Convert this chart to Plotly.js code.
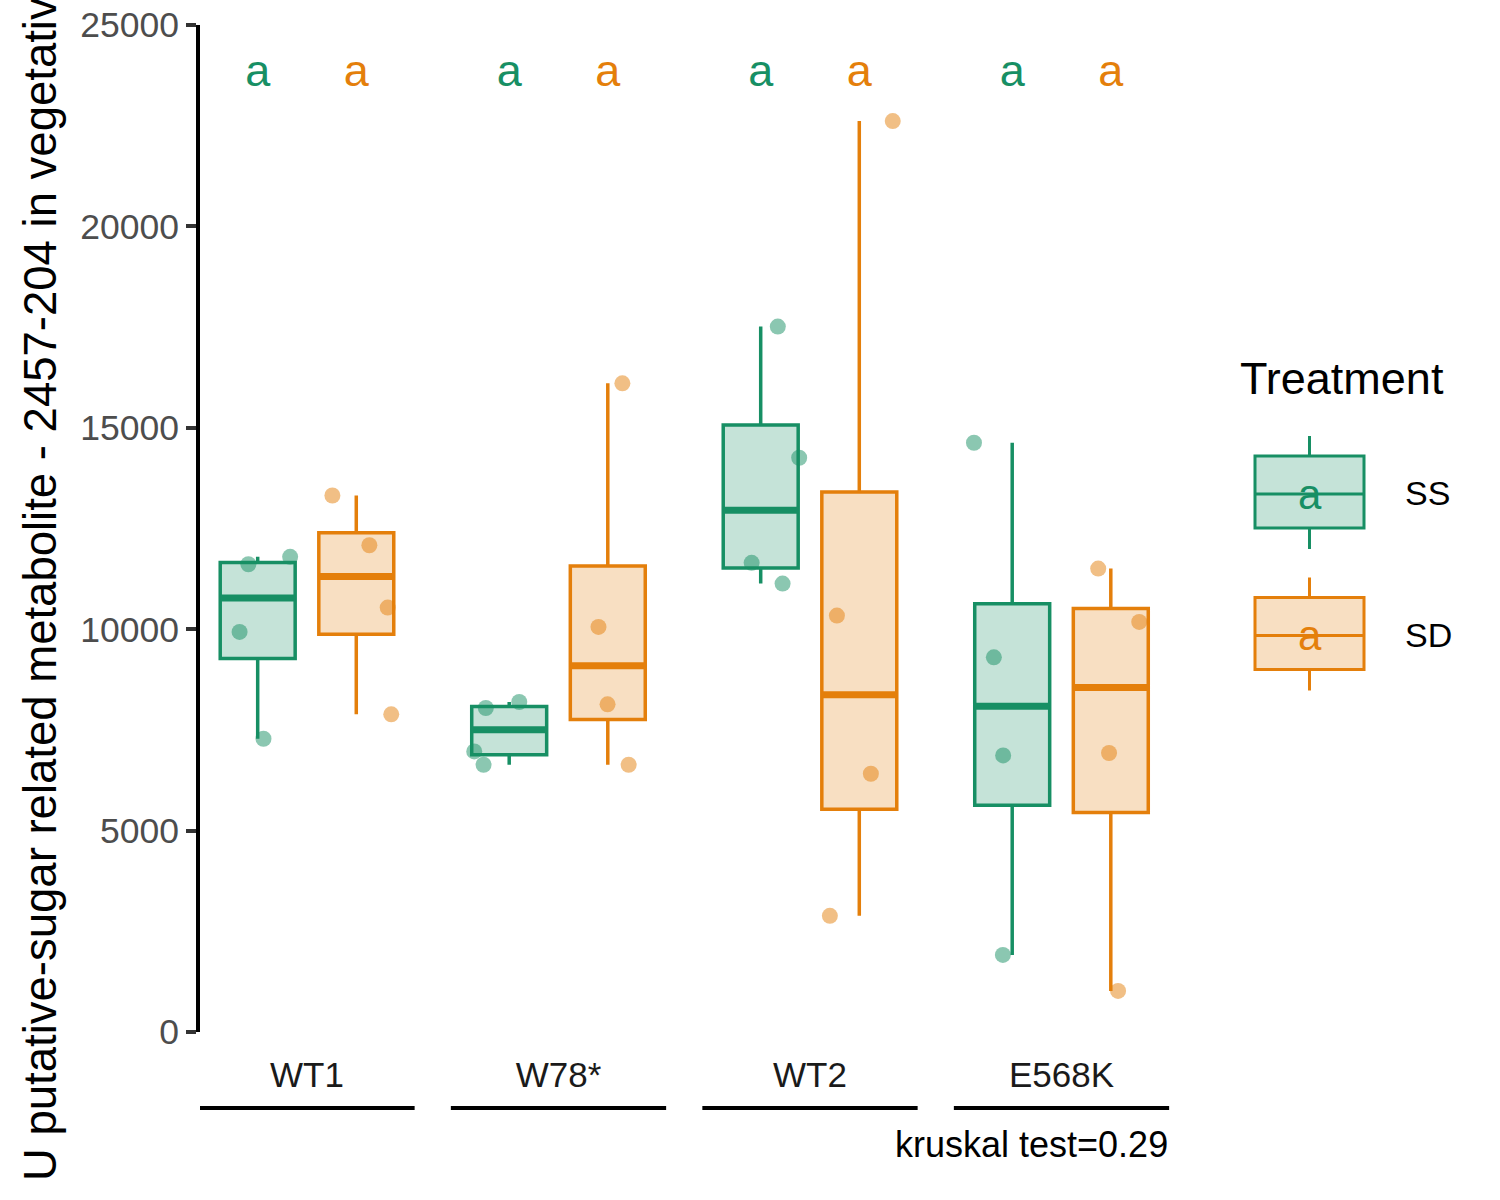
<!DOCTYPE html>
<html>
<head>
<meta charset="utf-8">
<script src="https://cdn.plot.ly/plotly-3.0.1.min.js"></script>
<style>html,body{margin:0;padding:0;background:#fff;}#chart{width:1500px;height:1200px;}</style>
</head>
<body>
<div id="chart"></div>
<script>
// ---- data ----
const genotypes = ['WT1', 'W78*', 'WT2', 'E568K'];
const treatments = ['SS', 'SD'];
const ssValues = [
  [11613, 11797, 9933, 7281],
  [8044, 8193, 6966, 6635],
  [17512, 14257, 11647, 11133],
  [14629, 9302, 6867, 1913]
];
const sdValues = [
  [13320, 12085, 10537, 7886],
  [16103, 10057, 8134, 6635],
  [22614, 10338, 6412, 2883],
  [11506, 10181, 6926, 1019]
];
// horizontal jitter of the points (category units)
const ssJitter = [
  [-0.037, 0.129, -0.072, 0.023],
  [-0.093, 0.040, -0.139, -0.102],
  [0.068, 0.153, -0.036, 0.087],
  [-0.152, -0.073, -0.036, -0.037]
];
const sdJitter = [
  [-0.095, 0.052, 0.125, 0.139],
  [0.058, -0.037, -0.001, 0.083],
  [0.133, -0.089, 0.046, -0.117],
  [-0.050, 0.113, -0.007, 0.029]
];
const ssLetters = ['a', 'a', 'a', 'a'];
const sdLetters = ['a', 'a', 'a', 'a'];
const letterY = 23770;
const yTicks = [0, 5000, 10000, 15000, 20000, 25000];
const yTitle = 'U putative-sugar related metabolite - 2457-204 in vegetative tissue';
const caption = 'kruskal test=0.29';
const legendTitle = 'Treatment';

// ---- styles ----
const colors = {SS: '#178F64', SD: '#E47F0B'};
const fills = {SS: 'rgba(23,143,100,0.25)', SD: 'rgba(228,127,11,0.25)'};
const pointColors = {SS: 'rgba(23,143,100,0.5)', SD: 'rgba(228,127,11,0.5)'};
const dodge = {SS: -0.196, SD: 0.196};
const boxW = 0.298;
const FONT = 'Liberation Sans, Arial, Helvetica, sans-serif';

// ---- stats (ggplot / R type 7 quantiles) ----
function quant(arr, p) {
  const s = arr.slice().sort((a, b) => a - b);
  const h = (s.length - 1) * p;
  const lo = Math.floor(h), hi = Math.ceil(h);
  return s[lo] + (h - lo) * (s[hi] - s[lo]);
}
function stats(arr) {
  const q1 = quant(arr, 0.25), med = quant(arr, 0.5), q3 = quant(arr, 0.75);
  const iqr = q3 - q1;
  const inside = arr.filter(v => v >= q1 - 1.5 * iqr && v <= q3 + 1.5 * iqr);
  return {q1, med, q3, lo: Math.min(...inside), hi: Math.max(...inside)};
}

const traces = [];
const seriesVals = {SS: ssValues, SD: sdValues};
const seriesJit = {SS: ssJitter, SD: sdJitter};
const seriesLetters = {SS: ssLetters, SD: sdLetters};

treatments.forEach(t => {
  const vals = seriesVals[t];
  const st = vals.map(stats);
  const pos = genotypes.map((g, i) => i + dodge[t]);
  traces.push({
    type: 'box', name: t, x: pos,
    q1: st.map(s => s.q1), median: st.map(s => s.med), q3: st.map(s => s.q3),
    lowerfence: st.map(s => s.lo), upperfence: st.map(s => s.hi),
    width: boxW, whiskerwidth: 0,
    line: {color: colors[t], width: 3.5},
    fillcolor: fills[t], boxpoints: false, hoverinfo: 'skip', showlegend: false
  });
  // thick median segments
  const mx = [], my = [];
  st.forEach((s, i) => {
    mx.push(pos[i] - boxW / 2, pos[i] + boxW / 2, null);
    my.push(s.med, s.med, null);
  });
  traces.push({type: 'scatter', mode: 'lines', x: mx, y: my,
    line: {color: colors[t], width: 7}, hoverinfo: 'skip', showlegend: false});
  // jittered points
  const px = [], py = [];
  vals.forEach((arr, i) => arr.forEach((v, k) => {
    px.push(pos[i] + seriesJit[t][i][k]); py.push(v);
  }));
  traces.push({type: 'scatter', mode: 'markers', x: px, y: py,
    marker: {size: 16, color: pointColors[t], line: {width: 0}},
    hoverinfo: 'skip', showlegend: false});
  // letters
  traces.push({type: 'scatter', mode: 'text', x: pos, y: pos.map(() => letterY),
    text: seriesLetters[t], textposition: 'middle center',
    textfont: {family: FONT, size: 45, color: colors[t]},
    hoverinfo: 'skip', showlegend: false});
});

// ---- layout helpers (pixel -> paper) ----
const W = 1500, H = 1200, ML = 200, MR = 330, MT = 25, MB = 168;
const PW = W - ML - MR, PH = H - MT - MB;
const fx = p => (p - ML) / PW;
const fy = p => (H - MB - p) / PH;

const shapes = [];
const annotations = [];

// group underline bars
genotypes.forEach((g, i) => {
  shapes.push({type: 'line', xref: 'x', yref: 'paper', x0: i - 0.428, x1: i + 0.428,
    y0: fy(1108), y1: fy(1108), line: {color: '#000', width: 4}});
});

// y axis title (long; runs past the figure edges as in the reference)
annotations.push({xref: 'paper', yref: 'paper', x: fx(40), y: fy(511), xanchor: 'center', yanchor: 'middle',
  text: yTitle, textangle: -90, showarrow: false, font: {family: FONT, size: 45.5, color: '#000'}});

// custom legend
annotations.push({xref: 'paper', yref: 'paper', x: fx(1238), y: fy(378), xanchor: 'left', yanchor: 'middle',
  text: legendTitle, showarrow: false, font: {family: FONT, size: 45, color: '#000'}});
treatments.forEach((t, k) => {
  const off = k * 141.5;
  const cx = 1309.5;
  shapes.push({type: 'rect', xref: 'paper', yref: 'paper', x0: fx(1255), x1: fx(1364), y0: fy(456 + off), y1: fy(528 + off),
    fillcolor: fills[t], line: {color: colors[t], width: 3}});
  shapes.push({type: 'line', xref: 'paper', yref: 'paper', x0: fx(1255), x1: fx(1364), y0: fy(494 + off), y1: fy(494 + off),
    line: {color: colors[t], width: 3}});
  shapes.push({type: 'line', xref: 'paper', yref: 'paper', x0: fx(cx), x1: fx(cx), y0: fy(436 + off), y1: fy(456 + off),
    line: {color: colors[t], width: 3}});
  shapes.push({type: 'line', xref: 'paper', yref: 'paper', x0: fx(cx), x1: fx(cx), y0: fy(528 + off), y1: fy(549 + off),
    line: {color: colors[t], width: 3}});
  annotations.push({xref: 'paper', yref: 'paper', x: fx(cx), y: fy(494 + off), xanchor: 'center', yanchor: 'middle',
    text: seriesLetters[t][0], showarrow: false, font: {family: FONT, size: 42, color: colors[t]}});
  annotations.push({xref: 'paper', yref: 'paper', x: fx(1403), y: fy(493 + off), xanchor: 'left', yanchor: 'middle',
    text: t, showarrow: false, font: {family: FONT, size: 34, color: '#000'}});
});

// caption
annotations.push({xref: 'paper', yref: 'paper', x: fx(1170), y: fy(1144), xanchor: 'right', yanchor: 'middle',
  text: caption, showarrow: false, font: {family: FONT, size: 36, color: '#000'}});

const layout = {
  width: W, height: H,
  margin: {l: ML, r: MR, t: MT, b: MB, pad: 0},
  paper_bgcolor: '#fff', plot_bgcolor: '#fff',
  showlegend: false, boxmode: 'overlay',
  font: {family: FONT},
  xaxis: {
    range: [-0.4254, 3.4314], tickvals: genotypes.map((g, i) => i), ticktext: genotypes,
    showgrid: false, zeroline: false, showline: false, ticks: '', ticklabelstandoff: 19,
    tickfont: {family: FONT, size: 35, color: '#1a1a1a'}, fixedrange: true
  },
  yaxis: {
    range: [0, 25000], tickvals: yTicks, tickformat: 'd',
    showgrid: false, zeroline: false, showline: true, linecolor: '#000', linewidth: 4,
    ticks: 'outside', ticklen: 10, tickwidth: 4, tickcolor: '#333',
    tickfont: {family: FONT, size: 35.5, color: '#4d4d4d'},
    automargin: false, fixedrange: true
  },
  shapes, annotations
};

Plotly.newPlot('chart', traces, layout, {staticPlot: true, displayModeBar: false});
</script>
</body>
</html>
